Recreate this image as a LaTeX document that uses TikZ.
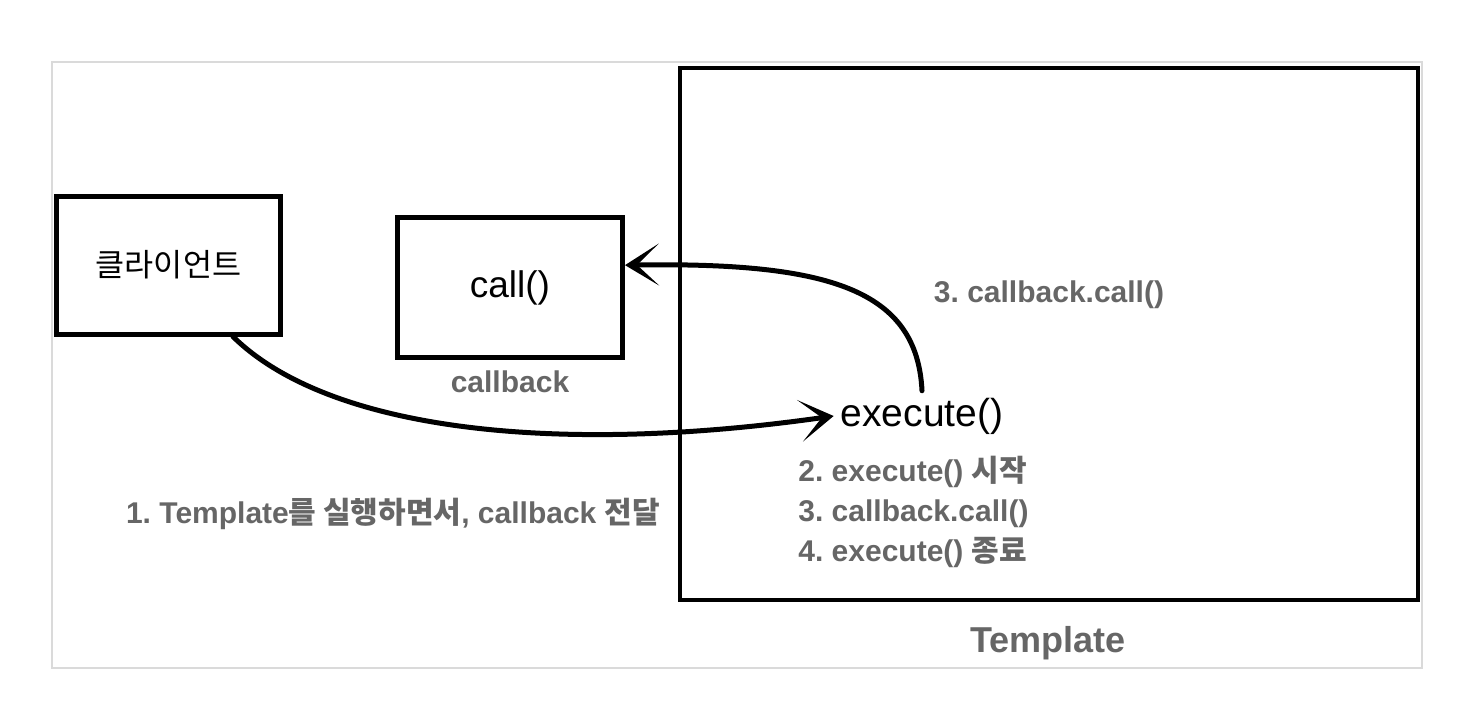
\documentclass[tikz,border=0pt]{standalone}
\usepackage{fontspec}
\setmainfont{Liberation Sans}
\newfontfamily\kr{Noto Sans CJK KR}
\frenchspacing
\usetikzlibrary{positioning,arrows.meta}
\definecolor{txtgray}{HTML}{666666}
\definecolor{framegray}{HTML}{DADADA}
\tikzstyle{box}=[draw, line width=2.5pt, inner sep=0pt]
\tikzstyle{note}=[text=txtgray, font=\bfseries\fontsize{15}{20}\selectfont, inner sep=2pt]
\tikzstyle{rough>}=[line width=2.5pt, line cap=round, -{Stealth[length=17pt,width=21pt,inset=11pt]}]

\begin{document}
\begin{tikzpicture}[x=0.5pt,y=-0.5pt]
\useasboundingbox (0,0) rectangle (1460,706);
\draw[framegray, line width=1pt] (52,62) rectangle (1422,668);
\node[box, line width=2pt, minimum width=369pt, minimum height=266pt] (tp) at (1049,334) {};
\node[note, font=\bfseries\fontsize{18}{22}\selectfont] (tpl) at (1048,643) {Template};
\node[box, minimum width=112pt, minimum height=69pt, font=\kr\fontsize{15.8}{18}\selectfont] (cl) at (168.5,265) {클라이언트};
\node[box, minimum width=112.5pt, minimum height=70pt, font=\fontsize{18.5}{22}\selectfont] (cb) at (510,287.5) {call()};
\node[note, below=3pt of cb] (cbl) {callback};
\node[font=\fontsize{19.5}{24}\selectfont] (ex) at (922,416) {execute()};
\node[note] (n3) at (1049,295) {3. callback.call()};
\node[note] (n1) at (393,514) {1. Template{\kr 를 실행하면서}, callback {\kr 전달}};
\node[note, anchor=north west, align=left] (steps) at (794,452)
  {2. execute() {\kr 시작}\\ 3. callback.call()\\ 4. execute() {\kr 종료}};
% calls
\draw[rough>] (cl.-48) .. controls (330,432) and (560,455) .. (ex.west);
\draw[rough>] (ex.north) .. controls (917,290) and (830,262) .. (cb.11);
\end{tikzpicture}
\end{document}
